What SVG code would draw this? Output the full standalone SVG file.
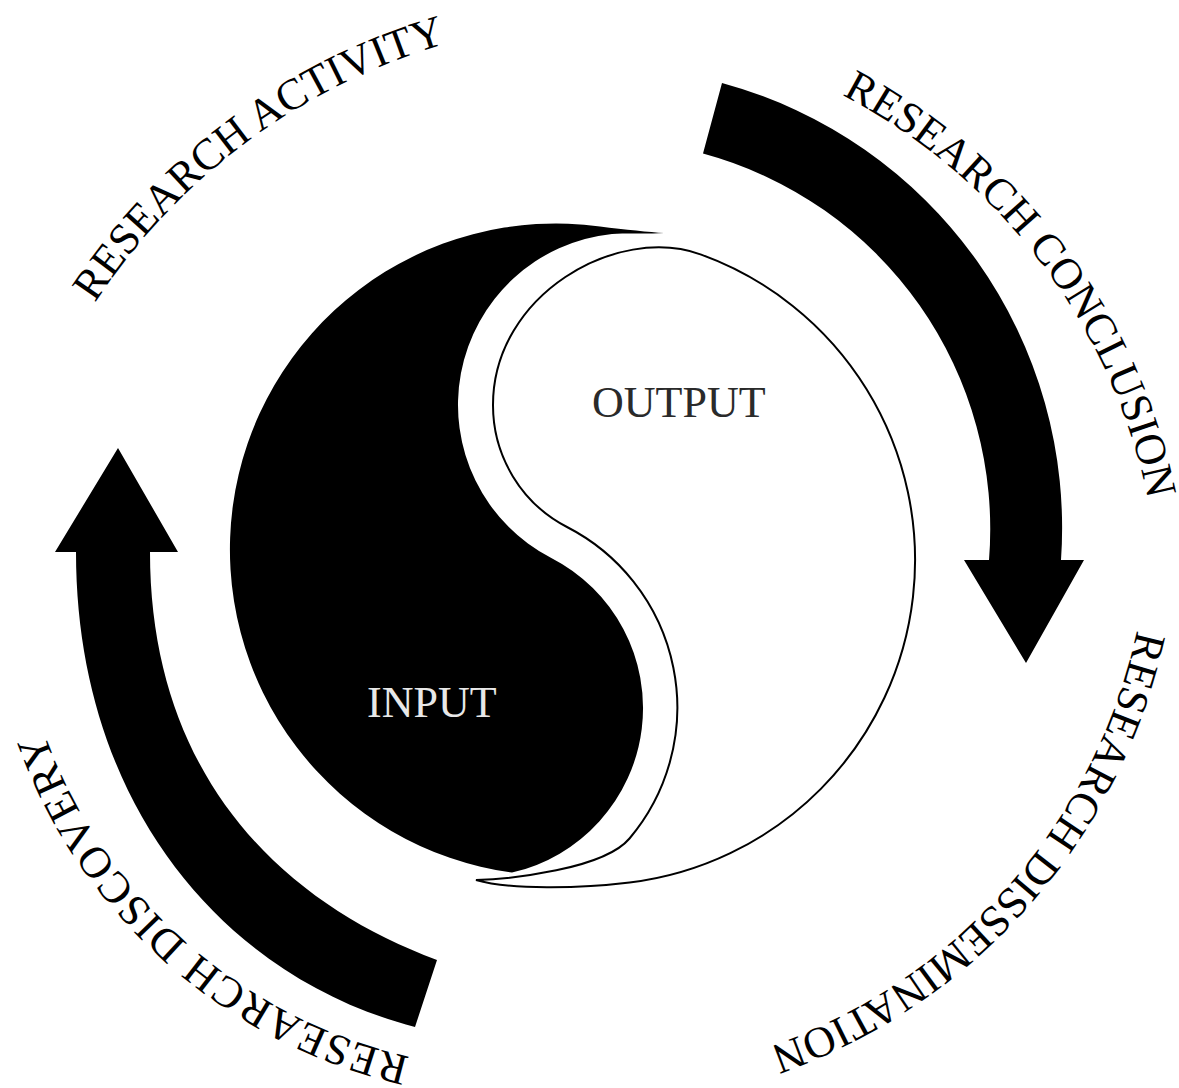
<svg xmlns="http://www.w3.org/2000/svg" width="1179" height="1088" viewBox="0 0 1179 1088">
<style>
  .arc-label { font-family: "Liberation Serif", "Times New Roman", serif; font-size: 44px; fill: #000; }
  .center-label { font-family: "Liberation Serif", "Times New Roman", serif; font-size: 44px; }
  .band { fill: #000; stroke: none; }
</style>
<defs>
  <path id="p-activity" d="M 95 303 A 627 627 0 0 1 543.6 23.7"/>
  <path id="p-conclusion" d="M 842 95 A 589 589 0 0 1 1160 618"/>
  <path id="p-dissemination" d="M 1137 630 A 567.6 567.6 0 0 1 661 1073"/>
  <path id="p-discovery" d="M 410 1057 A 508.7 508.7 0 0 1 22 649.3"/>
</defs>
<rect width="1179" height="1088" fill="#fff"/>

<g id="node-output">
  <path fill="#fff" stroke="#000" stroke-width="2" d="M 476,880 C 511,879 603.8,869.1 629.5,838.5 A 203 203 0 0 0 567,527 A 137 137 0 0 1 493,405 C 493,295 616.6,223.8 701.2,254.6 A 325 325 0 0 1 629.6,882.6 C 580,888.7 510,890 476,880 Z"/>
  <text class="center-label" x="592" y="417" fill="#2a2a2a">OUTPUT</text>
</g>

<g id="node-input">
  <path fill="#000" d="M 664,233 C 648,234 628,233 612,233.9 A 172 172 0 0 0 551.3,557.9 A 168.8 168.8 0 0 1 512,872.6 A 326 326 0 1 1 600,226.4 C 625,229.5 650,232 664,233 Z"/>
  <text class="center-label" x="367" y="717" fill="#e8e8e8">INPUT</text>
</g>

<g id="connectors">
  <path id="arrow-conclusion" class="band" d="M 722,83 A 461 461 0 0 1 1061,560 L 1084,560 L 1026,663 L 964,560 L 989,560 A 389 389 0 0 0 703,153.5 Z"/>
  <path id="arrow-discovery" class="band" d="M 150,552 C 150,772 277.5,901 437,960 L 415,1027 C 221.6,976.4 76,802 76,552 L 55,552 L 118,448 L 178,552 Z"/>
</g>

<g id="label-activity">
  <text class="arc-label"><textPath href="#p-activity">RESEARCH ACTIVITY</textPath></text>
</g>
<g id="label-conclusion">
  <text class="arc-label"><textPath href="#p-conclusion">RESEARCH CONCLUSION</textPath></text>
</g>
<g id="label-dissemination">
  <text class="arc-label"><textPath href="#p-dissemination">RESEARCH DISSEMINATION</textPath></text>
</g>
<g id="label-discovery">
  <text class="arc-label" style="letter-spacing:1.2px"><textPath href="#p-discovery">RESEARCH DISCOVERY</textPath></text>
</g>
</svg>
